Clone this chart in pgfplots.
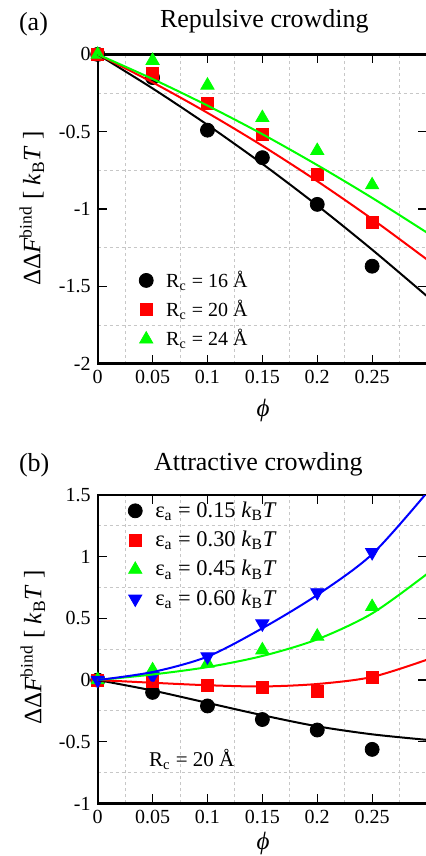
\documentclass[border=0pt]{standalone}
\usepackage{fontspec}
\setmainfont{Liberation Serif}
\usepackage{pgfplots}
\pgfplotsset{compat=1.18}
\definecolor{cgreen}{RGB}{0,255,0}
\definecolor{cred}{RGB}{255,0,0}
\definecolor{cblue}{RGB}{0,0,255}
\pgfplotsset{
  myax/.style={
    scale only axis, width=164.66pt,
    xmin=0, xmax=0.3,
    xtick={0,0.05,0.1,0.15,0.2,0.25},
    xticklabels={0,0.05,0.1,0.15,0.2,0.25},
    minor xtick={0.025,0.075,0.125,0.175,0.225,0.275},
    xminorgrids=true, yminorgrids=true,
    minor tick length=0pt,
    minor grid style={black!22, line width=0.45pt, dash pattern=on 1.5pt off 1.5pt},
    major tick length=4.5pt, tick align=inside,
    xtick pos=both, ytick pos=both,
    tick style={black, line width=0.6pt},
    axis line style={black, line width=1.15pt},
    ticklabel style={font=\fontsize{10}{12}\selectfont},
    clip mode=individual,
    title style={font=\fontsize{13}{15}\selectfont, at={(0.5,1)}, anchor=base},
    legend cell align=left,
  },
  fit/.style={smooth, line width=1pt, no marks, forget plot},
}
\begin{document}
\begin{tikzpicture}
\useasboundingbox (0,0) rectangle (212.5pt,-428pt);
% ---------------- panel (a)
\begin{axis}[myax, at={(48.85pt,-27.2pt)}, anchor=north west,
  height=154.6pt, ymin=-2, ymax=0,
  ytick={-2,-1.5,-1,-0.5,0}, yticklabels={-2,-1.5,-1,-0.5,0},
  minor ytick={-1.75,-1.25,-0.75,-0.25},
  title={Repulsive crowding}, title style={yshift=7.35pt, xshift=1pt},
  legend style={draw=none, fill=none, font=\fontsize{10}{12}\selectfont,
    at={(axis cs:0.032,-1.345)}, anchor=north west, row sep=1pt,
    /tikz/every odd column/.append style={column sep=4.5pt}},
]
\addplot[only marks, mark=*, mark size=3.5pt, black] coordinates {
 (0,0) (0.05,-0.15) (0.1,-0.49) (0.15,-0.668) (0.2,-0.97) (0.25,-1.37)};
\addlegendentry{R\textsubscript{c} = 16 Å}
\addplot[only marks, mark=square*, mark size=3pt, cred] coordinates {
 (0,0) (0.05,-0.12) (0.1,-0.317) (0.15,-0.52) (0.2,-0.774) (0.25,-1.088)};
\addlegendentry{R\textsubscript{c} = 20 Å}
\addplot[only marks, mark=triangle*, mark size=3.8pt, cgreen] coordinates {
 (0,0) (0.05,-0.04) (0.1,-0.2) (0.15,-0.41) (0.2,-0.623) (0.25,-0.845)};
\addlegendentry{R\textsubscript{c} = 24 Å}
\addplot[fit, black] coordinates {
 (0,0) (0.05,-0.22) (0.1,-0.456) (0.15,-0.708) (0.2,-0.977) (0.25,-1.263) (0.3,-1.564)};
\addplot[fit, cred] coordinates {
 (0,0) (0.05,-0.181) (0.1,-0.378) (0.15,-0.591) (0.2,-0.82) (0.25,-1.065) (0.3,-1.327)};
\addplot[fit, cgreen] coordinates {
 (0,0) (0.05,-0.159) (0.1,-0.331) (0.15,-0.516) (0.2,-0.716) (0.25,-0.928) (0.3,-1.153)};
\end{axis}
% ---------------- panel (b)
\begin{axis}[myax, at={(48.85pt,-247.5pt)}, anchor=north west,
  height=154.2pt, ymin=-1, ymax=1.5,
  ytick={-1,-0.5,0,0.5,1,1.5}, yticklabels={-1,-0.5,0,0.5,1,1.5},
  minor ytick={-0.75,-0.25,0.25,0.75,1.25},
  title={Attractive crowding}, title style={yshift=6.15pt, xshift=-2pt},
  legend style={draw=none, fill=none, font=\fontsize{11.2}{13}\selectfont,
    at={(axis cs:0.022,1.515)}, anchor=north west, row sep=1.4pt,
    /tikz/every odd column/.append style={column sep=4.5pt}},
]
\addplot[only marks, mark=*, mark size=3.5pt, black] coordinates {
 (0,0) (0.05,-0.10) (0.1,-0.21) (0.15,-0.32) (0.2,-0.405) (0.25,-0.562)};
\addlegendentry{ε\textsubscript{a} = 0.15 \textit{k}\textsubscript{B}\textit{T}}
\addplot[only marks, mark=square*, mark size=3pt, cred] coordinates {
 (0,0) (0.05,-0.01) (0.1,-0.041) (0.15,-0.06) (0.2,-0.092) (0.25,0.019)};
\addlegendentry{ε\textsubscript{a} = 0.30 \textit{k}\textsubscript{B}\textit{T}}
\addplot[only marks, mark=triangle*, mark size=3.8pt, cgreen] coordinates {
 (0,0) (0.05,0.081) (0.1,0.135) (0.15,0.243) (0.2,0.354) (0.25,0.594)};
\addlegendentry{ε\textsubscript{a} = 0.45 \textit{k}\textsubscript{B}\textit{T}}
\addplot[only marks, mark=triangle*, mark size=3.8pt, mark options={rotate=180}, cblue] coordinates {
 (0,0) (0.05,0.032) (0.1,0.19) (0.15,0.457) (0.2,0.71) (0.25,1.035)};
\addlegendentry{ε\textsubscript{a} = 0.60 \textit{k}\textsubscript{B}\textit{T}}
\addplot[fit, black] coordinates {
 (0,0) (0.05,-0.085) (0.1,-0.185) (0.15,-0.285) (0.2,-0.375) (0.25,-0.44) (0.3,-0.485)};
\addplot[fit, cred] coordinates {
 (0,0) (0.05,-0.022) (0.1,-0.042) (0.15,-0.052) (0.2,-0.032) (0.25,0.025) (0.3,0.165)};
\addplot[fit, cgreen] coordinates {
 (0,0) (0.05,0.045) (0.1,0.105) (0.15,0.195) (0.2,0.33) (0.25,0.54) (0.3,0.86)};
\addplot[fit, cblue] coordinates {
 (0,0) (0.05,0.065) (0.1,0.19) (0.15,0.42) (0.2,0.69) (0.25,1.02) (0.3,1.52)};
\node[anchor=base west, font=\fontsize{10.5}{12}\selectfont] at (axis cs:0.0404,-0.697) {R\textsubscript{c} = 20 Å};
\end{axis}
% ---------------- labels
\node[anchor=base west, font=\fontsize{13}{15}\selectfont] at (6pt,-15.35pt) {(a)};
\node[anchor=base west, font=\fontsize{13}{15}\selectfont] at (6pt,-235.85pt) {(b)};
\node[rotate=90, anchor=base, font=\fontsize{12.5}{15}\selectfont] at (20.2pt,-104.25pt)
  {ΔΔ\textit{F}\textsuperscript{bind} [ \textit{k}\textsubscript{B}\textit{T} ]};
\node[rotate=90, anchor=base, font=\fontsize{12.5}{15}\selectfont] at (20.7pt,-323.8pt)
  {ΔΔ\textit{F}\textsuperscript{bind} [ \textit{k}\textsubscript{B}\textit{T} ]};
\node[font=\fontsize{12.5}{15}\selectfont\itshape] at (131.5pt,-205pt) {ϕ};
\node[font=\fontsize{12.5}{15}\selectfont\itshape] at (131.5pt,-421.8pt) {ϕ};
\end{tikzpicture}
\end{document}
